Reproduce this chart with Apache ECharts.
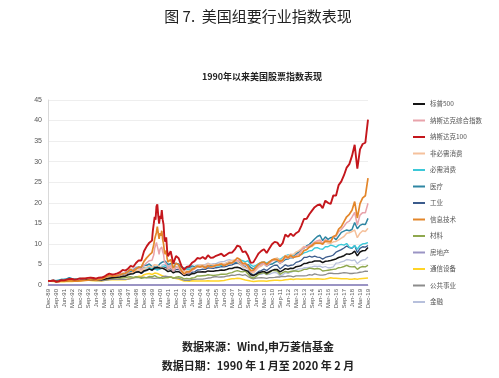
<!DOCTYPE html>
<html><head><meta charset="utf-8">
<script src="https://cdn.jsdelivr.net/npm/echarts@6/dist/echarts.min.js"></script>
<style>html,body{margin:0;padding:0;background:#fff}#c{width:499px;height:378px}</style>
</head><body><div id="c"></div>
<script>
// x positions: months since Dec-89
const monthsQ = [0,3,6,9,12,15,18,21,24,27,30,33,36,39,42,45,48,51,54,57,60,63,66,69,72,75,78,81,84,87,90,93,96,99,102,105,108,111,114,117,120,123,126,129,132,135,138,141,144,147,150,153,156,159,162,165,168,171,174,177,180,183,186,189,192,195,198,201,204,207,210,213,216,219,222,225,228,231,234,237,240,243,246,249,252,255,258,261,264,267,270,273,276,279,282,285,288,291,294,297,300,303,306,309,312,315,318,321,324,327,330,333,336,339,342,345,348,351,354,357,360];
const monthsFine = [0,3,6,9,12,15,18,21,24,27,30,33,36,39,42,45,48,51,54,57,60,63,66,69,72,75,78,81,84,87,90,93,96,99,102,105,108,111,114,117,118,119,120,121,122,123,124,125,126,127,128,129,130,131,132,133,134,135,138,141,144,147,150,153,156,159,162,165,168,171,174,177,180,183,186,189,192,195,198,201,204,207,210,213,216,219,222,225,228,231,234,237,240,243,246,249,252,255,258,261,264,267,270,273,276,279,282,285,288,291,294,297,300,303,306,309,312,315,318,321,324,327,330,333,336,339,342,345,348,351,354,357,360];
const xTickLabels = ['Dec-89','Sep-90','Jun-91','Mar-92','Dec-92','Sep-93','Jun-94','Mar-95','Dec-95','Sep-96','Jun-97','Mar-98','Dec-98','Sep-99','Jun-00','Mar-01','Dec-01','Sep-02','Jun-03','Mar-04','Dec-04','Sep-05','Jun-06','Mar-07','Dec-07','Sep-08','Jun-09','Mar-10','Dec-10','Sep-11','Jun-12','Mar-13','Dec-13','Sep-14','Jun-15','Mar-16','Dec-16','Sep-17','Jun-18','Mar-19','Dec-19'];
const yTicks = [0,5,10,15,20,25,30,35,40,45];

const ndx100 = [1.00,
0.96,1.10,0.80,0.89, 1.18,1.12,1.30,1.48, 1.45,1.32,1.42,1.61, 1.58,1.62,1.72,1.78, 1.70,1.55,1.78,1.81,
2.00,2.45,2.75,2.57, 2.65,2.85,3.10,3.67, 3.50,3.95,4.65,4.43, 5.35,6.00,5.95,8.20, 9.40,10.3,10.8,
13.3,14.9,16.6,15.9,19.1,19.6,16.9,14.9,16.8,16.1,18.2,15.9,14.7,11.2,10.5,11.6,8.5,7.0,
8.2,5.2,7.04, 6.5,4.7,3.7,4.40, 4.55,5.4,5.8,6.56, 6.4,6.8,6.3,7.24, 6.6,6.7,7.1,7.35, 7.6,7.0,7.4,7.85,
7.9,8.6,9.6,9.31, 8.0,8.2,7.1,5.41, 5.5,6.6,7.7,8.31, 8.7,7.8,8.9,9.91, 10.5,10.3,9.4,10.18, 12.3,11.7,12.5,11.89,
12.6,13.0,14.4,16.05, 16.1,17.2,18.1,18.93, 19.4,19.6,18.7,20.52, 20.0,19.7,21.8,21.73, 24.3,25.2,26.7,28.57,
29.4,31.4,34.1,28.28, 33.0,34.3,34.6,40.2];
const nasdaqComp = [1.00,
0.96,1.02,0.76,0.82, 1.06,1.05,1.16,1.29, 1.33,1.24,1.28,1.49, 1.52,1.55,1.68,1.71, 1.63,1.55,1.68,1.65,
1.80,2.05,2.30,2.31, 2.42,2.61,2.70,2.84, 2.69,3.17,3.71,3.45, 4.03,4.17,3.72,4.82, 5.41,5.91,6.04,
6.52,7.34,8.95,8.66,10.33,10.05,8.49,7.48,8.72,8.28,9.25,8.08,7.41,5.71,5.43,6.10,4.73,4.05,
4.75,3.30,4.29, 4.06,3.22,2.58,2.94, 2.95,3.57,3.93,4.40, 4.38,4.50,4.17,4.78, 4.40,4.52,4.73,4.85, 5.14,4.78,4.96,5.31,
5.33,5.72,5.94,5.83, 5.01,5.04,4.60,3.47, 3.36,4.04,4.67,4.99, 5.27,4.64,5.21,5.83, 6.11,6.10,5.31,5.73, 6.80,6.45,6.85,6.64,
7.19,7.48,8.29,9.18, 9.23,9.69,9.88,10.41, 10.78,10.96,10.16,11.01, 10.71,10.65,11.68,11.84, 13.0,13.5,14.28,15.18,
15.53,16.51,17.69,14.59, 16.99,17.60,17.59,19.9];
const infoTech = [1.00,
0.97,1.08,0.80,0.88, 1.02,0.95,1.00,1.02, 1.00,0.92,0.95,1.00, 1.05,1.10,1.18,1.25, 1.22,1.18,1.32,1.40,
1.65,2.05,2.35,2.15, 2.15,2.30,2.50,2.75, 2.85,3.25,3.85,3.30, 3.90,4.35,4.40,5.75, 6.6,7.3,7.9,
8.9,9.8,11.2,11.0,12.8,14.2,12.6,11.2,12.6,12.0,13.2,11.1,10.0,8.0,7.5,8.4,6.5,5.6,
6.2,4.1,5.3, 4.9,3.5,2.7,3.2, 3.2,3.8,4.1,4.6, 4.4,4.6,4.1,4.7, 4.4,4.5,4.8,4.9, 5.1,4.7,5.0,5.3,
5.4,5.9,6.6,6.2, 5.2,5.3,4.6,3.5, 3.6,4.4,5.1,5.5, 5.6,5.0,5.6,6.1, 6.3,6.1,5.8,6.0, 7.1,6.6,7.2,6.7,
6.9,7.0,7.5,8.4, 8.6,9.2,9.6,10.2, 10.2,10.2,9.9,10.7, 10.6,10.5,11.8,12.1, 13.6,14.2,15.4,16.6,
17.2,18.2,20.3,16.3, 19.8,21.2,21.7,26.0];

const sp500 = [1.00,
0.96,1.01,0.87,0.93, 1.06,1.05,1.10,1.18, 1.14,1.15,1.18,1.23, 1.28,1.28,1.30,1.32, 1.26,1.26,1.31,1.30,
1.42,1.54,1.65,1.74, 1.83,1.90,1.94,2.10, 2.14,2.50,2.68,2.75, 3.12,3.21,2.88,3.48, 3.64,3.89,3.63,4.16,
4.24,4.12,4.07,3.74, 3.28,3.46,2.95,3.25, 3.25,2.80,2.31,2.49, 2.40,2.76,2.82,3.15, 3.19,3.23,3.16,3.43,
3.34,3.37,3.48,3.53, 3.66,3.59,3.78,4.01, 4.02,4.25,4.32,4.15, 3.74,3.62,3.30,2.56, 2.26,2.60,2.99,3.16,
3.31,2.92,3.23,3.56, 3.75,3.74,3.20,3.56, 3.98,3.85,4.08,4.04, 4.44,4.54,4.76,5.23, 5.30,5.55,5.58,5.83,
5.85,5.84,5.43,5.78, 5.83,5.94,6.14,6.34, 6.69,6.86,7.13,7.57, 7.47,7.69,8.25,7.09, 8.02,8.33,8.42,9.14];
const consDisc = [1.00,
0.98,1.00,0.80,0.85, 1.05,1.10,1.15,1.30, 1.35,1.35,1.35,1.55, 1.65,1.65,1.75,1.80, 1.70,1.60,1.65,1.55,
1.65,1.80,1.95,1.95, 2.05,2.20,2.15,2.25, 2.30,2.65,2.95,3.00, 3.50,3.65,3.25,4.00, 4.30,4.60,4.30,4.95,
4.80,4.30,4.20,3.80, 3.90,4.30,3.60,4.30, 4.50,4.00,3.30,3.40, 3.30,3.90,4.20,4.70, 4.80,4.90,4.70,5.20,
5.00,4.90,5.00,5.00, 5.30,5.10,5.40,5.80, 5.90,6.10,5.70,5.10, 4.60,4.20,4.10,3.20, 2.90,3.60,4.30,4.60,
5.20,4.70,5.30,6.00, 6.40,6.60,5.80,6.40, 7.20,7.00,7.50,7.40, 8.00,8.30,8.80,9.40, 9.20,9.50,9.30,9.90,
10.50,10.60,10.20,10.50, 10.20,10.10,10.50,10.60, 11.00,11.40,11.80,12.60, 12.70,13.00,13.40,11.50, 12.60,13.20,13.00,13.80];
const consStaples = [1.00,
1.00,1.10,1.05,1.15, 1.35,1.35,1.45,1.65, 1.55,1.50,1.55,1.60, 1.50,1.45,1.45,1.50, 1.50,1.50,1.55,1.60,
1.75,1.90,2.05,2.20, 2.35,2.45,2.55,2.75, 2.85,3.30,3.35,3.55, 3.95,4.10,3.85,4.35, 4.20,4.30,3.90,4.00,
3.60,4.00,4.40,4.70, 4.40,4.30,4.50,4.40, 4.50,4.30,3.90,3.90, 3.70,4.00,4.10,4.40, 4.50,4.60,4.40,4.60,
4.60,4.50,4.60,4.60, 4.80,4.90,5.10,5.30, 5.40,5.50,5.90,6.10, 5.90,5.60,5.90,4.90, 4.50,4.80,5.20,5.50,
5.60,5.30,5.70,6.00, 6.20,6.50,6.20,6.70, 7.10,7.30,7.30,7.20, 7.30,7.50,7.40,7.80, 8.00,8.30,8.40,9.00,
9.10,8.80,8.70,9.30, 9.30,9.70,9.50,9.20, 9.70,9.90,9.70,10.10, 9.20,9.00,9.60,8.70, 9.60,10.00,10.10,10.30];
const healthCare = [1.00,
1.05,1.15,1.05,1.15, 1.35,1.35,1.45,1.75, 1.55,1.40,1.40,1.45, 1.30,1.25,1.30,1.35, 1.30,1.30,1.45,1.50,
1.70,1.85,2.10,2.30, 2.45,2.50,2.60,2.70, 2.80,3.20,3.30,3.55, 4.10,4.30,4.20,4.85, 4.80,5.10,4.50,4.40,
4.40,5.20,5.60,5.80, 5.00,5.15,5.20,5.25, 5.10,4.30,4.10,4.25, 4.20,4.65,4.45,4.70, 4.60,4.70,4.50,4.70,
4.80,4.85,5.00,5.00, 5.10,4.90,5.30,5.40, 5.40,5.45,5.60,5.55, 5.10,4.90,5.00,4.25, 3.90,4.30,4.80,5.05,
5.20,4.60,5.00,5.10, 5.50,5.80,5.30,5.70, 6.20,6.30,6.70,6.60, 7.60,8.00,8.60,9.00, 9.50,9.90,10.50,11.20,
11.80,12.10,10.80,11.70, 11.10,11.50,11.70,11.00, 11.90,12.80,13.10,13.40, 13.20,13.50,15.20,13.70, 14.50,14.80,14.70,16.20];
const industrials = [1.00,
0.98,1.05,0.85,0.92, 1.05,1.05,1.10,1.20, 1.18,1.20,1.15,1.25, 1.32,1.35,1.38,1.45, 1.40,1.35,1.40,1.40,
1.55,1.70,1.85,1.95, 2.10,2.15,2.20,2.35, 2.45,2.80,2.95,2.90, 3.20,3.25,2.80,3.30, 3.50,3.90,3.60,3.95,
3.80,3.90,4.10,4.30, 3.80,4.00,3.30,3.75, 3.80,3.30,2.70,2.85, 2.75,3.10,3.20,3.65, 3.70,3.85,3.80,4.15,
4.10,4.05,4.20,4.30, 4.45,4.40,4.55,4.80, 4.90,5.20,5.35,5.10, 4.70,4.40,4.00,3.00, 2.40,2.80,3.30,3.50,
3.90,3.50,4.00,4.50, 4.80,4.80,3.90,4.40, 4.90,4.60,4.80,4.90, 5.50,5.70,6.00,6.70, 6.70,7.00,6.80,7.00,
6.80,6.70,6.30,6.70, 6.90,7.00,7.30,8.00, 8.30,8.60,9.00,9.50, 9.10,8.90,9.60,7.90, 8.90,9.30,9.20,9.60];
const materials = [1.00,
1.00,1.05,0.85,0.90, 1.05,1.05,1.10,1.15, 1.15,1.15,1.15,1.25, 1.25,1.25,1.25,1.35, 1.35,1.35,1.45,1.40,
1.50,1.55,1.60,1.60, 1.70,1.70,1.65,1.75, 1.80,1.95,2.00,1.85, 2.00,1.90,1.60,1.75, 1.80,2.10,2.00,2.30,
1.90,1.75,1.65,1.75, 1.80,1.95,1.60,1.90, 2.00,1.85,1.50,1.60, 1.50,1.70,1.80,2.20, 2.20,2.25,2.30,2.50,
2.40,2.30,2.40,2.50, 2.65,2.60,2.65,2.90, 3.00,3.30,3.50,3.30, 3.20,3.40,2.70,1.90, 1.70,2.10,2.60,2.90,
3.00,2.60,3.00,3.50, 3.50,3.40,2.60,3.00, 3.30,3.10,3.30,3.40, 3.40,3.30,3.50,3.80, 3.80,4.10,4.00,3.90,
4.00,3.90,3.40,3.50, 3.60,3.70,3.80,3.90, 4.20,4.30,4.50,4.80, 4.50,4.40,4.50,3.80, 4.30,4.50,4.40,4.80];
const realEstateMonths = [0, 360];
const realEstate = [0, 0];
const telecom = [1.00,
0.92,0.88,0.78,0.80, 0.85,0.80,0.85,0.88, 0.88,0.90,0.95,1.00, 1.10,1.15,1.20,1.10, 1.05,1.05,1.05,1.00,
1.10,1.20,1.25,1.35, 1.30,1.30,1.25,1.30, 1.25,1.45,1.55,1.70, 1.95,2.10,2.05,2.50, 2.70,2.80,2.55,2.90,
2.80,2.50,2.20,1.90, 1.85,1.95,1.75,1.60, 1.45,1.20,0.95,1.00, 0.90,1.05,1.00,1.00, 1.00,1.00,0.95,1.05,
1.00,1.00,1.00,0.95, 1.05,1.10,1.25,1.40, 1.50,1.55,1.65,1.60, 1.40,1.20,1.10,0.95, 0.85,0.90,0.95,1.00,
0.98,0.92,1.05,1.10, 1.15,1.15,1.10,1.15, 1.25,1.35,1.45,1.35, 1.45,1.45,1.40,1.45, 1.45,1.50,1.45,1.45,
1.50,1.45,1.40,1.45, 1.60,1.75,1.65,1.65, 1.60,1.55,1.55,1.55, 1.40,1.40,1.50,1.40, 1.55,1.60,1.65,1.70];
const utilities = [1.00,
0.95,0.97,0.93,1.00, 1.02,1.00,1.08,1.15, 1.08,1.12,1.18,1.22, 1.30,1.35,1.38,1.28, 1.15,1.10,1.08,1.05,
1.15,1.20,1.30,1.40, 1.35,1.38,1.35,1.42, 1.38,1.45,1.55,1.72, 1.85,1.80,1.85,1.90, 1.75,1.80,1.70,1.60,
1.65,1.70,2.05,2.15, 2.05,1.95,1.75,1.65, 1.65,1.45,1.15,1.20, 1.15,1.35,1.35,1.45, 1.45,1.45,1.55,1.70,
1.75,1.95,2.05,1.90, 1.95,2.00,2.15,2.25, 2.40,2.35,2.50,2.55, 2.35,2.50,2.05,1.70, 1.50,1.65,1.75,1.80,
1.75,1.60,1.80,1.80, 1.85,1.95,1.95,2.10, 2.05,2.20,2.15,2.00, 2.20,2.20,2.20,2.20, 2.30,2.50,2.40,2.70,
2.50,2.40,2.40,2.50, 2.80,2.90,2.80,2.75, 2.80,2.90,3.00,2.95, 2.80,2.80,2.90,2.95, 3.10,3.20,3.40,3.30];
const financials = [1.00,
0.90,0.92,0.70,0.78, 0.95,0.98,1.05,1.15, 1.25,1.30,1.30,1.45, 1.55,1.60,1.70,1.55, 1.50,1.50,1.50,1.40,
1.60,1.75,1.95,2.10, 2.20,2.30,2.45,2.75, 2.90,3.40,3.75,3.90, 4.40,4.40,3.60,4.20, 4.30,4.60,4.00,4.20,
4.10,4.20,4.90,5.00, 4.60,4.80,4.40,4.50, 4.60,4.30,3.60,3.80, 3.70,4.30,4.40,4.90, 4.90,4.90,5.00,5.30,
5.00,5.20,5.20,5.50, 5.70,5.70,6.00,6.20, 6.00,6.00,5.80,5.00, 4.40,3.40,3.50,2.20, 1.50,2.00,2.60,2.60,
2.90,2.50,2.60,2.90, 3.10,2.90,2.20,2.50, 3.00,2.80,3.10,3.30, 3.70,3.90,3.90,4.20, 4.20,4.30,4.40,4.60,
4.50,4.60,4.30,4.50, 4.20,4.20,4.40,5.30, 5.40,5.60,5.80,6.20, 6.10,5.90,6.10,5.20, 5.80,6.10,6.20,6.80];

const legendNames = ['标普500','纳斯达克综合指数','纳斯达克100','非必需消费','必需消费','医疗','工业','信息技术','材料','房地产','通信设备','公共事业','金融'];

function pairs(xs, ys){ return ys.map((v,i)=>[xs[i], v]); }

// drawing order (bottom to top)
const defs = [
  {name:'金融', x:monthsQ, y:financials, color:'#b7c0dc', w:1.3},
  {name:'通信设备', x:monthsQ, y:telecom, color:'#ffd426', w:1.5},
  {name:'公共事业', x:monthsQ, y:utilities, color:'#8c8c8c', w:1.3},
  {name:'材料', x:monthsQ, y:materials, color:'#8fa84e', w:1.4},
  {name:'房地产', x:realEstateMonths, y:realEstate, color:'#9a94c4', w:2},
  {name:'工业', x:monthsQ, y:industrials, color:'#3b5b8c', w:1.3},
  {name:'必需消费', x:monthsQ, y:consStaples, color:'#3cc8d8', w:1.4},
  {name:'医疗', x:monthsQ, y:healthCare, color:'#2f86a3', w:1.5},
  {name:'非必需消费', x:monthsQ, y:consDisc, color:'#f5c19c', w:1.5},
  {name:'标普500', x:monthsQ, y:sp500, color:'#141414', w:1.5},
  {name:'纳斯达克综合指数', x:monthsFine, y:nasdaqComp, color:'#e8a3ab', w:1.5},
  {name:'信息技术', x:monthsFine, y:infoTech, color:'#e3862a', w:1.7},
  {name:'纳斯达克100', x:monthsFine, y:ndx100, color:'#c4161c', w:1.9}
];

const F = "'Noto Sans CJK SC','Noto Sans',sans-serif";
const chart = echarts.init(document.getElementById('c'), null, {renderer:'canvas'});
chart.setOption({
  animation:false,
  backgroundColor:'#ffffff',
  textStyle:{fontFamily:F},
  grid:{left:48, right:131, top:100, bottom:93},
  legend:{
    orient:'vertical', left:413, top:99, icon:'rect', itemWidth:12, itemHeight:2, itemGap:6.5,
    selectedMode:false, padding:0,
    data:legendNames,
    textStyle:{fontSize:6.5, lineHeight:10, color:'#555', fontFamily:F}
  },
  xAxis:{
    type:'value', min:0, max:360, interval:9,
    axisLine:{show:true, lineStyle:{color:'#d0d0d0'}}, axisTick:{show:false}, splitLine:{show:false},
    axisLabel:{rotate:90, fontSize:6, color:'#555', margin:4, fontFamily:'Liberation Sans, Arial',
      formatter:v=>xTickLabels[Math.round(v/9)] || ''}
  },
  yAxis:{
    type:'value', min:yTicks[0], max:yTicks[yTicks.length-1], interval:5,
    axisLine:{show:true, lineStyle:{color:'#d9d9d9'}}, axisTick:{show:false},
    splitLine:{show:true, lineStyle:{color:'#eeeeee', width:1}},
    axisLabel:{fontSize:7, color:'#555', margin:6, fontFamily:'Liberation Sans, Arial'}
  },
  series: defs.map(d=>({
    type:'line', name:d.name, data:pairs(d.x, d.y), showSymbol:false, symbol:'none',
    lineStyle:{color:d.color, width:d.w}, itemStyle:{color:d.color}, emphasis:{disabled:true}
  })),
  graphic:[
    {type:'text', style:{x:258, y:16, text:'图 7.  美国组要行业指数表现', fontSize:15, fill:'#222', align:'center', verticalAlign:'middle', fontFamily:F}},
    {type:'text', style:{x:262, y:77, text:'1990年以来美国股票指数表现', fontSize:9, fontWeight:'bold', fill:'#222', align:'center', verticalAlign:'middle', fontFamily:F}},
    {type:'text', style:{x:258, y:347, text:'数据来源：Wind,申万菱信基金', fontSize:11, fontWeight:'bold', fill:'#222', align:'center', verticalAlign:'middle', fontFamily:F}},
    {type:'text', style:{x:258, y:366, text:'数据日期：1990 年 1 月至 2020 年 2 月', fontSize:11, fontWeight:'bold', fill:'#222', align:'center', verticalAlign:'middle', fontFamily:F}}
  ]
});
</script></body></html>
